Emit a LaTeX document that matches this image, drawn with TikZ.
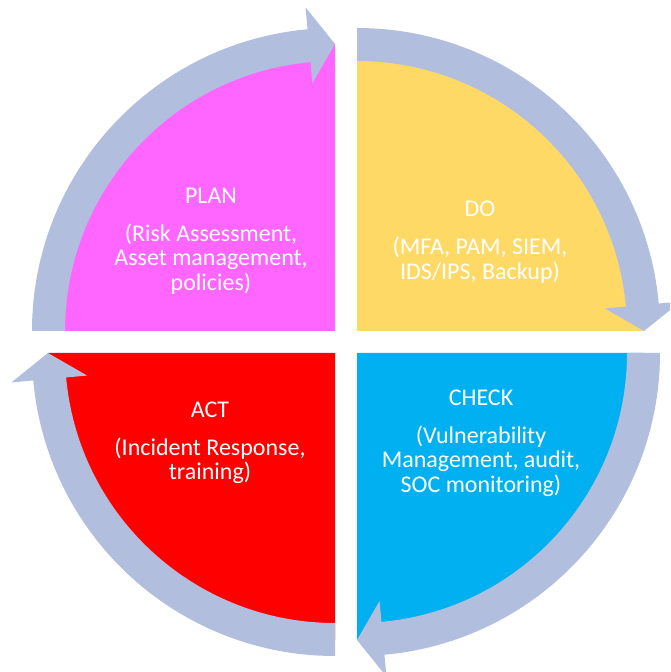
\documentclass[tikz,border=0pt]{standalone}
\usepackage{fontspec}
\setmainfont{Carlito}
\usetikzlibrary{calc}
\definecolor{planpink}{RGB}{255,102,255}
\definecolor{doyellow}{RGB}{255,217,102}
\definecolor{checkblue}{RGB}{0,176,240}
\definecolor{actred}{RGB}{255,0,0}
\definecolor{bandblue}{RGB}{178,190,222}

% curved band around one quadrant: #1 = quadrant corner, #2 = angle where the band starts;
% the band runs clockwise for a quarter turn and ends in an arrowhead
\newcommand\cyclearrow[2]{%
  \fill[band] ($(#1)+(#2:303pt)$)
    arc[start angle=#2, end angle=#2-84.8, radius=303pt]
    -- ($(#1)+(#2-84.8:325pt)$)
    -- ($(#1)+(#2-90:287pt)$)
    -- ($(#1)+(#2-84.8:249pt)$)
    -- ($(#1)+(#2-84.8:270pt)$)
    arc[start angle=#2-84.8, end angle=#2, radius=270pt]
    -- cycle;}

\begin{document}
\begin{tikzpicture}[x=1pt,y=1pt,
  band/.style={fill=bandblue},
  quadtext/.style={text=white, font=\fontsize{24}{24.5}\selectfont,
    align=center, inner sep=0pt, anchor=north}]
\useasboundingbox (0,0) rectangle (670,672);
\clip (0,0) rectangle (670,672);

% quadrant corners
\coordinate (cP) at (335,341);
\coordinate (cD) at (357,341);
\coordinate (cC) at (357,319);
\coordinate (cA) at (335,319);

% quarter discs (their rims run under the bands, up to the arrow tips)
\fill[planpink]  (cP) -- ++(180:287pt) arc[start angle=180, end angle=90,   radius=287pt] -- cycle;
\fill[doyellow]  (cD) -- ++(90:287pt)  arc[start angle=90,  end angle=0,    radius=287pt] -- cycle;
\fill[checkblue] (cC) -- ++(0:287pt)   arc[start angle=0,   end angle=-90,  radius=287pt] -- cycle;
\fill[actred]    (cA) -- ++(-90:287pt) arc[start angle=-90, end angle=-180, radius=287pt] -- cycle;

% cycle arrows
\cyclearrow{cP}{180}
\cyclearrow{cD}{90}
\cyclearrow{cC}{0}
\cyclearrow{cA}{-90}

% labels
\node[quadtext] (plan)  at (211,484.5) {PLAN\\[13.5pt](Risk Assessment,\\Asset management,\\policies)};
\node[quadtext] (do)    at (480,470.8) {DO\\[13.5pt](MFA, PAM, SIEM,\\IDS/IPS, Backup)};
\node[quadtext] (check) at (481,282.5) {CHECK\\[13.5pt](Vulnerability\\Management, audit,\\SOC monitoring)};
\node[quadtext] (act)   at (210,270.5) {ACT\\[13.5pt](Incident Response,\\training)};
\end{tikzpicture}
\end{document}
